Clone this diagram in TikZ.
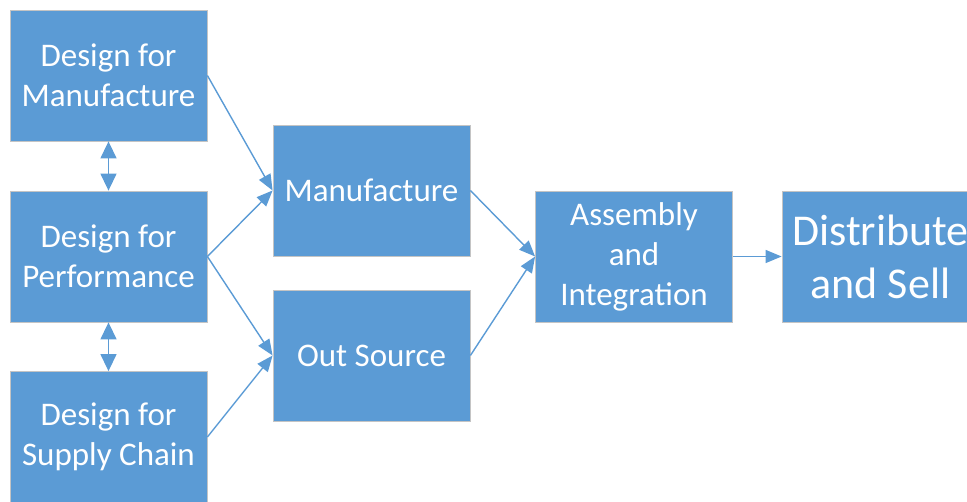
\documentclass[tikz,border=0pt]{standalone}
\usepackage{fontspec}
\setmainfont{Carlito}
\usetikzlibrary{arrows.meta}
\definecolor{boxblue}{HTML}{5B9BD5}
\definecolor{boxline}{HTML}{C4C4C4}
\begin{document}
\begin{tikzpicture}
  [x=1pt,y=-1pt,
   blk/.style={rectangle,fill=boxblue,draw=boxline,line width=0.8pt,text=white,
     minimum width=197pt,minimum height=131pt,inner sep=0pt,align=center,
     font=\fontsize{33}{40}\selectfont},
   flow/.style={color=boxblue,line width=1.4pt,-{Triangle[length=16pt,width=13pt]}},
   both/.style={color=boxblue,line width=1.4pt,{Triangle[length=17pt,width=16pt]}-{Triangle[length=17pt,width=16pt]}}]
\useasboundingbox (0,0) rectangle (967,502);
\node (n1)[blk] at (108.5,75.5) {Design for\\Manufacture};
  \node (n2)[blk] at (108.5,256.5) {Design for\\Performance};
  \node (n3)[blk] at (108.5,437) {Design for\\Supply Chain};
  \node (n4)[blk] at (371.5,190.5) {Manufacture};
  \node (n5)[blk] at (371.5,355.5) {Out Source};
  \node (n6)[blk] at (634,256.5) {Assembly\\and\\Integration};
  \node (n7)[blk,font=\fontsize{44}{53}\selectfont] at (880.5,256.5) {Distribute\\and Sell};

 \path[both]
   (n1) edge (n2)
   (n2) edge (n3);
 \path[flow]
   (n1.east) edge (n4.west)
   (n2.east) edge (n4.west)
   (n2.east) edge (n5.west)
   (n3.east) edge (n5.west)
   (n4.east) edge (n6.west)
   (n5.east) edge (n6.west)
   (n6) edge (n7);

\end{tikzpicture}
\end{document}
